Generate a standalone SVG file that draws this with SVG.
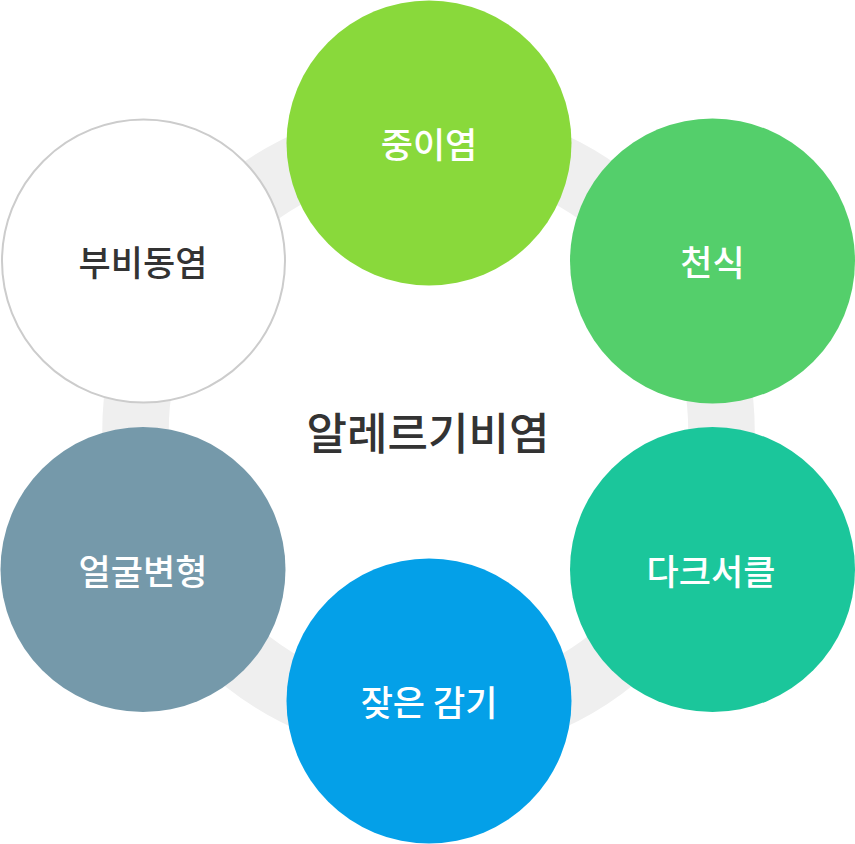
<svg xmlns="http://www.w3.org/2000/svg" width="855" height="844" viewBox="0 0 855 844">
  <style>
    .lbl { font-family: "Noto Sans CJK KR", "Noto Sans", sans-serif; font-size: 35px; font-weight: 500; text-anchor: middle; dominant-baseline: central; fill: #ffffff; }
    .dark { fill: #333333; }
    .title { font-family: "Noto Sans CJK KR", "Noto Sans", sans-serif; font-size: 44px; text-anchor: middle; dominant-baseline: central; fill: #333333; font-weight: 500; }
  </style>
  <rect width="855" height="844" fill="#ffffff"/>
  <g id="connectors">
    <circle cx="428.5" cy="431" r="293" fill="none" stroke="#efefef" stroke-width="66.5"/>
  </g>
  <g id="center">
    <text class="title" x="428" y="431">알레르기비염</text>
  </g>
  <g id="node-otitis">
    <circle cx="429" cy="143" r="142.5" fill="#89d93b"/>
    <text class="lbl" x="429" y="142">중이염</text>
  </g>
  <g id="node-asthma">
    <circle cx="712.5" cy="261" r="142.5" fill="#54cf6b"/>
    <text class="lbl" x="712.5" y="260">천식</text>
  </g>
  <g id="node-darkcircle">
    <circle cx="712.5" cy="569.5" r="142.5" fill="#1bc69b"/>
    <text class="lbl" x="711" y="569">다크서클</text>
  </g>
  <g id="node-cold">
    <circle cx="429" cy="701" r="142.5" fill="#04a0e8"/>
    <text class="lbl" x="429" y="700">잦은 감기</text>
  </g>
  <g id="node-face">
    <circle cx="143" cy="569.5" r="142.5" fill="#7599aa"/>
    <text class="lbl" x="143" y="569">얼굴변형</text>
  </g>
  <g id="node-sinusitis">
    <circle cx="143.5" cy="261" r="141.5" fill="#ffffff" stroke="#cccccc" stroke-width="2"/>
    <text class="lbl dark" x="143" y="260">부비동염</text>
  </g>
</svg>
